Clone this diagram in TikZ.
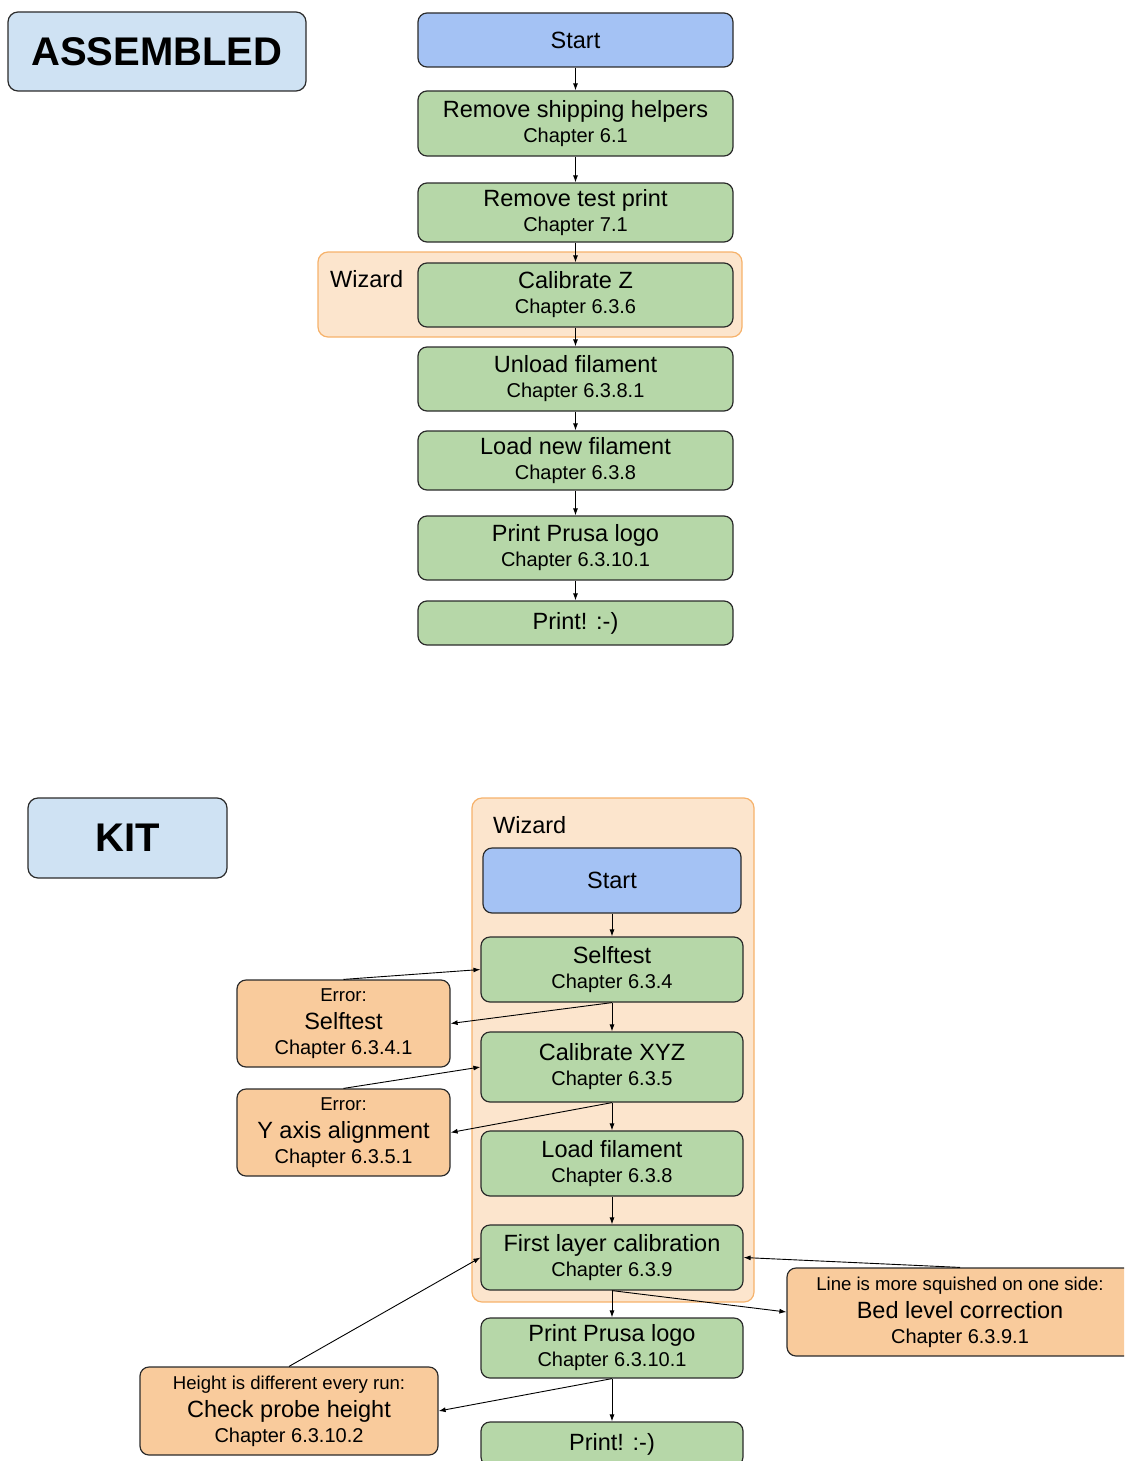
\documentclass[tikz,border=0pt]{standalone}
\usepackage{fontspec}
\setmainfont{Liberation Sans}
\usetikzlibrary{arrows.meta}

\definecolor{titleblue}{HTML}{CFE2F3}
\definecolor{startblue}{HTML}{A4C2F4}
\definecolor{stepgreen}{HTML}{B6D7A8}
\definecolor{erroronge}{HTML}{F9CB9C}
\definecolor{wizfill}{HTML}{FCE5CD}
\definecolor{wizline}{HTML}{F6B26B}
\definecolor{boxline}{HTML}{2B2B2B}

\newcommand{\bigtxt}{\fontsize{23.5}{25}\selectfont}
\newcommand{\chaptxt}{\fontsize{20}{25}\selectfont}
\newcommand{\notetxt}{\fontsize{18.6}{25}\selectfont}
\newcommand{\headtxt}{\fontsize{40}{44}\selectfont\bfseries}

\begin{document}
\begin{tikzpicture}[x=1pt,y=-1pt]
\tikzstyle{title} = [draw=boxline,line width=1.2,fill=titleblue,rounded corners=10,font=\headtxt,inner sep=0];
\tikzstyle{wizbox} = [draw=wizline,line width=1.2,fill=wizfill,rounded corners=10,inner sep=0];
\tikzstyle{wizlabel} = [font=\bigtxt,anchor=base west,inner sep=0];
\tikzstyle{startbox} = [draw=boxline,line width=1.2,fill=startblue,rounded corners=9,font=\bigtxt,inner sep=0,minimum width=315];
\tikzstyle{stepbox} = [draw=boxline,line width=1.2,fill=stepgreen,rounded corners=9,align=center,font=\chaptxt,inner sep=0,minimum width=315];
\tikzstyle{errbox} = [draw=boxline,line width=1.2,fill=erroronge,rounded corners=9,align=center,font=\chaptxt,inner sep=0,minimum height=87];
\tikzstyle{arr} = [line width=0.9,-{Latex[length=7,width=5]}];
\useasboundingbox (0,0) rectangle (1124,1461);
\clip (0,0) rectangle (1124,1461);

% assembled printer
\node [title,minimum width=298,minimum height=79] (asm) at (157,51.5) {ASSEMBLED};
\node [wizbox,minimum width=424,minimum height=85] (wa) at (530,294.5) {};
\node [wizlabel] (wla) at (330,287) {Wizard};
\node [startbox,minimum height=54] (a1) at (575.5,40) {Start};
\node [stepbox,minimum height=65] (a2) at (575.5,123.5) {\bigtxt Remove shipping helpers\\\chaptxt Chapter 6.1};
\node [stepbox,minimum height=59] (a3) at (575.5,212.5) {\bigtxt Remove test print\\\chaptxt Chapter 7.1};
\node [stepbox,minimum height=64] (a4) at (575.5,295) {\bigtxt Calibrate Z\\\chaptxt Chapter 6.3.6};
\node [stepbox,minimum height=64] (a5) at (575.5,379) {\bigtxt Unload filament\\\chaptxt Chapter 6.3.8.1};
\node [stepbox,minimum height=59] (a6) at (575.5,460.5) {\bigtxt Load new filament\\\chaptxt Chapter 6.3.8};
\node [stepbox,minimum height=64] (a7) at (575.5,548) {\bigtxt Print Prusa logo\\\chaptxt Chapter 6.3.10.1};
\node [stepbox,minimum height=44] (a8) at (575.5,623) {\bigtxt Print! :-)};
\draw [arr] (a1) edge (a2);
\draw [arr] (a2) edge (a3);
\draw [arr] (a3) edge (a4);
\draw [arr] (a4) edge (a5);
\draw [arr] (a5) edge (a6);
\draw [arr] (a6) edge (a7);
\draw [arr] (a7) edge (a8);

% kit
\node [title,minimum width=199,minimum height=80] (kit) at (127.5,838) {KIT};
\node [wizbox,minimum width=282,minimum height=504] (wb) at (613,1050) {};
\node [wizlabel] (wlb) at (493,833) {Wizard};
\node [startbox,minimum width=258,minimum height=65] (k1) at (612,880.5) {Start};
\node [stepbox,minimum width=262,minimum height=65] (k2) at (612,969.5) {\bigtxt Selftest\\\chaptxt Chapter 6.3.4};
\node [stepbox,minimum width=262,minimum height=70] (k3) at (612,1067) {\bigtxt Calibrate XYZ\\\chaptxt Chapter 6.3.5};
\node [stepbox,minimum width=262,minimum height=65] (k4) at (612,1163.5) {\bigtxt Load filament\\\chaptxt Chapter 6.3.8};
\node [stepbox,minimum width=262,minimum height=65] (k5) at (612,1257.5) {\bigtxt First layer calibration\\\chaptxt Chapter 6.3.9};
\node [stepbox,minimum width=262,minimum height=60] (k6) at (612,1348) {\bigtxt Print Prusa logo\\\chaptxt Chapter 6.3.10.1};
\node [stepbox,minimum width=262,minimum height=44] (k7) at (612,1444) {\bigtxt Print! :-)};
\node [errbox,minimum width=213] (e1) at (343.5,1023.5) {\notetxt Error:\\[3]\bigtxt Selftest\\\chaptxt Chapter 6.3.4.1};
\node [errbox,minimum width=213] (e2) at (343.5,1132.5) {\notetxt Error:\\[3]\bigtxt Y axis alignment\\\chaptxt Chapter 6.3.5.1};
\node [errbox,minimum width=298,minimum height=88] (e3) at (289,1411) {\notetxt Height is different every run:\\[3]\bigtxt Check probe height\\\chaptxt Chapter 6.3.10.2};
\node [errbox,minimum width=346,minimum height=88] (e4) at (960,1312) {\notetxt Line is more squished on one side:\\[3]\bigtxt Bed level correction\\\chaptxt Chapter 6.3.9.1};
\draw [arr] (k1) edge (k2);
\draw [arr] (k2) edge (k3);
\draw [arr] (k3) edge (k4);
\draw [arr] (k4) edge (k5);
\draw [arr] (k5) edge (k6);
\draw [arr] (k6) edge (k7);
\draw [arr] (e1.north) -- (k2.west);
\draw [arr] (k2.south) -- (e1.east);
\draw [arr] (e2.north) -- (k3.west);
\draw [arr] (k3.south) -- (e2.east);
\draw [arr] (k5.south) -- (e4.west);
\draw [arr] (e4.north) -- (k5.east);
\draw [arr] (e3.north) -- (k5.west);
\draw [arr] (k6.south) -- (e3.east);
\end{tikzpicture}
\end{document}
